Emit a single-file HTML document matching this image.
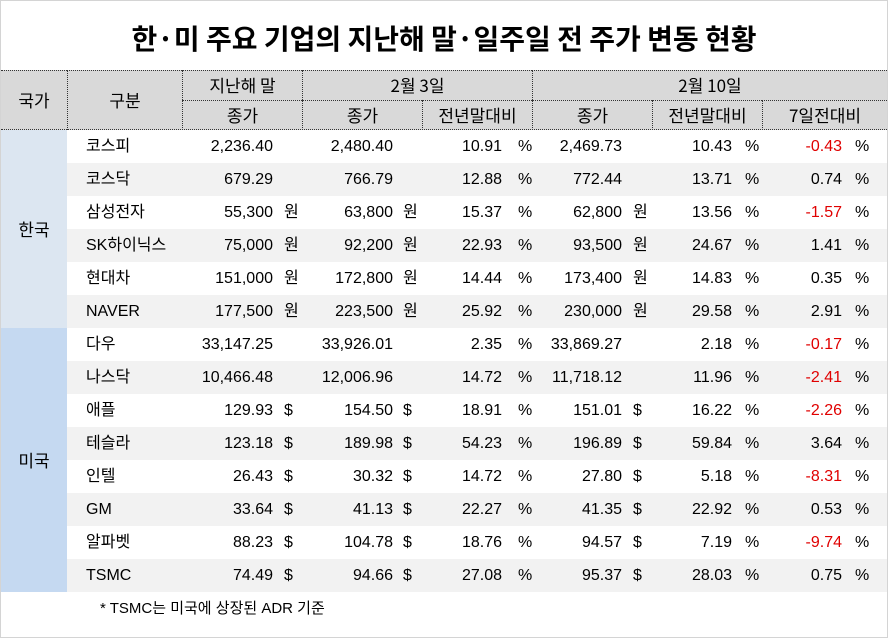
<!DOCTYPE html>
<html><head><meta charset="utf-8"><style>
*{margin:0;padding:0;box-sizing:border-box}
body{width:888px;height:638px;background:#fff;position:relative;overflow:hidden;font-family:"Liberation Sans","Noto Sans CJK KR",sans-serif;color:#000}
.frame{position:absolute;left:0;top:0;width:888px;height:638px;border:1px solid #d4d4d4}
.title{position:absolute;left:0;width:888px;top:18px;text-align:center;font-size:28px;font-weight:bold;font-family:"Noto Sans CJK KR",sans-serif;letter-spacing:0px}
.h{position:absolute;background:#d9d9d9;font-size:17px;text-align:center;font-family:"Noto Sans CJK KR",sans-serif;border-left:1px dotted #333;border-top:1px dotted #333}
.row{position:absolute;left:67px;width:820px;height:33px}
.row span{position:absolute;top:0;line-height:33px;font-size:16px;font-family:"Liberation Sans","Noto Sans CJK KR",sans-serif;white-space:nowrap}
.g{background:#f2f2f2}
.n{left:19px}
.a{right:614px}.au{left:217px}
.b{right:494px}.bu{left:336px}
.c{right:385px}.cu{left:451px}
.d{right:265px}.du{left:566px}
.e{right:155px}.eu{left:678px}
.f{right:45px}.fu{left:788px}
.r{color:#e00000}
.cty{position:absolute;left:1px;width:66px;font-size:17px;text-align:center;font-family:"Noto Sans CJK KR",sans-serif}
.note{position:absolute;left:100px;top:597px;font-size:15px;font-family:"Liberation Sans","Noto Sans CJK KR",sans-serif}
</style></head><body>
<div class="frame"></div>
<div class="title">한·미 주요 기업의 지난해 말·일주일 전 주가 변동 현황</div>

<div class="h" style="left:1px;top:70px;width:66px;height:60px;line-height:58px;border-left:none">국가</div>
<div class="h" style="left:67px;top:70px;width:115px;height:60px;line-height:58px">구분</div>
<div class="h" style="left:182px;top:70px;width:120px;height:30px;line-height:28px">지난해 말</div>
<div class="h" style="left:302px;top:70px;width:230px;height:30px;line-height:28px">2월 3일</div>
<div class="h" style="left:532px;top:70px;width:355px;height:30px;line-height:28px">2월 10일</div>
<div class="h" style="left:182px;top:100px;width:120px;height:30px;line-height:28px">종가</div>
<div class="h" style="left:302px;top:100px;width:120px;height:30px;line-height:28px">종가</div>
<div class="h" style="left:422px;top:100px;width:110px;height:30px;line-height:28px">전년말대비</div>
<div class="h" style="left:532px;top:100px;width:120px;height:30px;line-height:28px">종가</div>
<div class="h" style="left:652px;top:100px;width:110px;height:30px;line-height:28px">전년말대비</div>
<div class="h" style="left:762px;top:100px;width:125px;height:30px;line-height:28px">7일전대비</div>
<div style="position:absolute;left:1px;top:129px;width:886px;border-top:1px dotted #333"></div>

<div class="cty" style="top:130px;height:198px;line-height:198px;background:#dce6f1">한국</div>
<div class="cty" style="top:328px;height:264px;line-height:264px;background:#c5d9f1">미국</div>

<div class="row" style="top:130px"><span class="n">코스피</span><span class="a">2,236.40</span><span class="b">2,480.40</span><span class="c">10.91</span><span class="cu">%</span><span class="d">2,469.73</span><span class="e">10.43</span><span class="eu">%</span><span class="f r">-0.43</span><span class="fu">%</span></div>
<div class="row g" style="top:163px"><span class="n">코스닥</span><span class="a">679.29</span><span class="b">766.79</span><span class="c">12.88</span><span class="cu">%</span><span class="d">772.44</span><span class="e">13.71</span><span class="eu">%</span><span class="f">0.74</span><span class="fu">%</span></div>
<div class="row" style="top:196px"><span class="n">삼성전자</span><span class="a">55,300</span><span class="au">원</span><span class="b">63,800</span><span class="bu">원</span><span class="c">15.37</span><span class="cu">%</span><span class="d">62,800</span><span class="du">원</span><span class="e">13.56</span><span class="eu">%</span><span class="f r">-1.57</span><span class="fu">%</span></div>
<div class="row g" style="top:229px"><span class="n">SK하이닉스</span><span class="a">75,000</span><span class="au">원</span><span class="b">92,200</span><span class="bu">원</span><span class="c">22.93</span><span class="cu">%</span><span class="d">93,500</span><span class="du">원</span><span class="e">24.67</span><span class="eu">%</span><span class="f">1.41</span><span class="fu">%</span></div>
<div class="row" style="top:262px"><span class="n">현대차</span><span class="a">151,000</span><span class="au">원</span><span class="b">172,800</span><span class="bu">원</span><span class="c">14.44</span><span class="cu">%</span><span class="d">173,400</span><span class="du">원</span><span class="e">14.83</span><span class="eu">%</span><span class="f">0.35</span><span class="fu">%</span></div>
<div class="row g" style="top:295px"><span class="n">NAVER</span><span class="a">177,500</span><span class="au">원</span><span class="b">223,500</span><span class="bu">원</span><span class="c">25.92</span><span class="cu">%</span><span class="d">230,000</span><span class="du">원</span><span class="e">29.58</span><span class="eu">%</span><span class="f">2.91</span><span class="fu">%</span></div>
<div class="row" style="top:328px"><span class="n">다우</span><span class="a">33,147.25</span><span class="b">33,926.01</span><span class="c">2.35</span><span class="cu">%</span><span class="d">33,869.27</span><span class="e">2.18</span><span class="eu">%</span><span class="f r">-0.17</span><span class="fu">%</span></div>
<div class="row g" style="top:361px"><span class="n">나스닥</span><span class="a">10,466.48</span><span class="b">12,006.96</span><span class="c">14.72</span><span class="cu">%</span><span class="d">11,718.12</span><span class="e">11.96</span><span class="eu">%</span><span class="f r">-2.41</span><span class="fu">%</span></div>
<div class="row" style="top:394px"><span class="n">애플</span><span class="a">129.93</span><span class="au">$</span><span class="b">154.50</span><span class="bu">$</span><span class="c">18.91</span><span class="cu">%</span><span class="d">151.01</span><span class="du">$</span><span class="e">16.22</span><span class="eu">%</span><span class="f r">-2.26</span><span class="fu">%</span></div>
<div class="row g" style="top:427px"><span class="n">테슬라</span><span class="a">123.18</span><span class="au">$</span><span class="b">189.98</span><span class="bu">$</span><span class="c">54.23</span><span class="cu">%</span><span class="d">196.89</span><span class="du">$</span><span class="e">59.84</span><span class="eu">%</span><span class="f">3.64</span><span class="fu">%</span></div>
<div class="row" style="top:460px"><span class="n">인텔</span><span class="a">26.43</span><span class="au">$</span><span class="b">30.32</span><span class="bu">$</span><span class="c">14.72</span><span class="cu">%</span><span class="d">27.80</span><span class="du">$</span><span class="e">5.18</span><span class="eu">%</span><span class="f r">-8.31</span><span class="fu">%</span></div>
<div class="row g" style="top:493px"><span class="n">GM</span><span class="a">33.64</span><span class="au">$</span><span class="b">41.13</span><span class="bu">$</span><span class="c">22.27</span><span class="cu">%</span><span class="d">41.35</span><span class="du">$</span><span class="e">22.92</span><span class="eu">%</span><span class="f">0.53</span><span class="fu">%</span></div>
<div class="row" style="top:526px"><span class="n">알파벳</span><span class="a">88.23</span><span class="au">$</span><span class="b">104.78</span><span class="bu">$</span><span class="c">18.76</span><span class="cu">%</span><span class="d">94.57</span><span class="du">$</span><span class="e">7.19</span><span class="eu">%</span><span class="f r">-9.74</span><span class="fu">%</span></div>
<div class="row g" style="top:559px"><span class="n">TSMC</span><span class="a">74.49</span><span class="au">$</span><span class="b">94.66</span><span class="bu">$</span><span class="c">27.08</span><span class="cu">%</span><span class="d">95.37</span><span class="du">$</span><span class="e">28.03</span><span class="eu">%</span><span class="f">0.75</span><span class="fu">%</span></div>

<div class="note">* TSMC는 미국에 상장된 ADR 기준</div>
</body></html>
